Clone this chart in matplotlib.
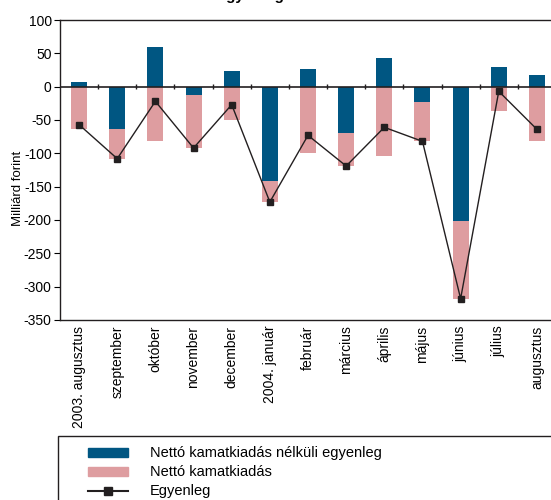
import matplotlib.pyplot as plt
from matplotlib.patches import Rectangle, Patch
from matplotlib.lines import Line2D
import numpy as np

plt.rcParams["font.family"] = ["Liberation Sans", "DejaVu Sans"]
plt.rcParams["axes.unicode_minus"] = False  # sima kötőjel a negatív számoknál

# adatok - milliárd forint
honapok = ["2003. augusztus", "szeptember", "október", "november", "december",
           "2004. január", "február", "március", "április", "május",
           "június", "július", "augusztus"]
nelkuli = [7, -64, 60, -13, 23, -142, 26, -70, 43, -23, -201, 30, 18]
kamat = [-64, -44, -82, -79, -50, -31, -99, -49, -104, -59, -117, -37, -82]
egyenleg = [-57, -108, -22, -92, -27, -173, -73, -119, -61, -82, -318, -7, -64]

kek = "#005682"
rozsa = "#de9da0"
fekete = "#231f20"

fig = plt.figure(figsize=(5.51, 5.0), dpi=100)
ax = fig.add_axes([60 / 551, 1 - 320 / 500, 496 / 551, 300 / 500])

x = np.arange(len(honapok))
nelkuli_arr = np.array(nelkuli)
# negatív kék oszlop alá rakódik a kamatkiadás
also = np.minimum(nelkuli_arr, 0)

ax.bar(x, nelkuli, width=0.42, color=kek, zorder=2)
ax.bar(x, kamat, width=0.42, bottom=also, color=rozsa, zorder=2)
ax.plot(x, egyenleg, color=fekete, linewidth=1, marker="s", markersize=5,
        zorder=4)

# nulla vonal a határoló kis jelekkel
ax.axhline(0, color=fekete, linewidth=1.2, zorder=3)
ax.vlines(x[:-1] + 0.5, -4, 4, color=fekete, linewidth=1, zorder=3)

ax.set_xlim(-0.5, len(honapok) - 0.5)
ax.set_ylim(-350, 100)
ax.set_yticks(np.arange(-350, 101, 50))
ax.tick_params(axis="y", direction="out", length=4, labelsize=10, pad=2)
ax.set_xticks(x)
ax.set_xticklabels(honapok, rotation=90, fontsize=10)
ax.tick_params(axis="x", length=0, pad=4)
ax.set_ylabel("Milliárd forint", fontsize=9.5)
ax.yaxis.set_label_coords(-36 / 496, 0.44)

for s in ax.spines.values():
    s.set_color(fekete)
    s.set_linewidth(1)
ax.spines["right"].set_visible(False)

# cím (a kép tetején levágva)
fig.text(250 / 551, 1.0, "Egyenleg", ha="center", va="baseline",
         fontsize=11, fontweight="bold")

# jelmagyarázat kerettel
fig.patches.append(Rectangle((58 / 551, -0.1), 0.95, 0.1 + 1 - 436 / 500,
                             transform=fig.transFigure, fill=False,
                             edgecolor=fekete, linewidth=1))
kezelok = [Patch(color=kek), Patch(color=rozsa),
           Line2D([], [], color=fekete, linewidth=1.5, marker="s", markersize=6)]
cimkek = ["Nettó kamatkiadás nélküli egyenleg", "Nettó kamatkiadás", "Egyenleg"]
fig.legend(kezelok, cimkek, loc="upper left",
           bbox_to_anchor=(81 / 551, 1 - 439 / 500), frameon=False,
           fontsize=10.5, handlelength=2.7, handleheight=0.6,
           handletextpad=1.5, labelspacing=0.35, borderpad=0)

fig.savefig("out.png", dpi=100)
